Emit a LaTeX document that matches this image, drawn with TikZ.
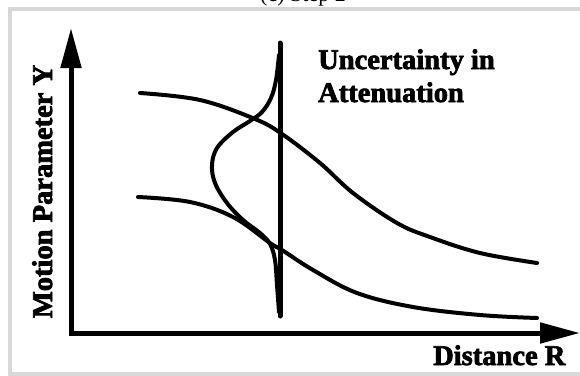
\documentclass[tikz,border=0pt]{standalone}
\usepackage{fontspec}
\setmainfont{Liberation Serif}
\newfontfamily\lblfont{Liberation Serif}[BoldFeatures={FakeBold=2.5}]
\usetikzlibrary{arrows.meta}
\definecolor{framegray}{RGB}{216,216,216}
\tikzset{
  lbl/.style={font=\lblfont\bfseries\fontsize{28.5}{33}\selectfont, inner sep=0pt},
  axisline/.style={line width=5pt, -{Triangle[length=40pt,width=20pt]}},
  curve/.style={line width=4pt, line cap=round, line join=round},
}
\begin{document}
\begin{tikzpicture}[x=1pt,y=-1pt]
\useasboundingbox (0,0) rectangle (580,375);
\clip (0,0) rectangle (580,375);
\fill[white] (0,0) rectangle (580,375);
% frame
\draw[framegray, line width=4pt] (10,9) rectangle (600,374);
% title (cut off at the top edge, as in the reference)
\node[anchor=base, inner sep=0pt, font=\fontsize{22}{26}\selectfont] (title) at (303,1) {(c) Step 2};
% axes
\coordinate (origin) at (71,333);
\coordinate (ytip) at (71,28);
\coordinate (xtip) at (580,333);
\draw[axisline] (origin |- 0,331) -- (ytip);
\draw[axisline] (68.5,333) -- (xtip);
% attenuation curves
\draw[curve] plot[smooth, tension=0.6] coordinates {(140,93) (200,100) (255,119) (282,134) (320,163) (353,193) (397,223) (430,237) (480,253) (537,263)};
\draw[curve] plot[smooth, tension=0.6] coordinates {(138,197) (190,202) (233,217) (270,243) (282,250) (313,270) (357,293) (413,307) (480,315) (537,318)};
% vertical line
\coordinate (vtop) at (280,43);
\coordinate (vbot) at (280,316);
\draw[line width=5pt, line cap=round] (vtop) -- (vbot);
% distribution
\draw[curve] plot[smooth, tension=0.6] coordinates {(279,55) (276,80) (271,98) (262,112) (250,121) (233,132) (217,148) (212,165) (215,183) (227,203) (243,220) (260,233) (270,244) (275,260) (277,285) (279,312)};
% labels
\node[lbl, anchor=base west] (unc1) at (318,69) {Uncertainty in};
\node[lbl, anchor=base west] (unc2) at (318,102) {Attenuation};
\node[lbl, anchor=base west] (xlab) at (433,365) {Distance R};
\node[lbl, anchor=base, rotate=90] (ylab) at (52,191.5) {Motion Parameter Y};
\end{tikzpicture}
\end{document}
